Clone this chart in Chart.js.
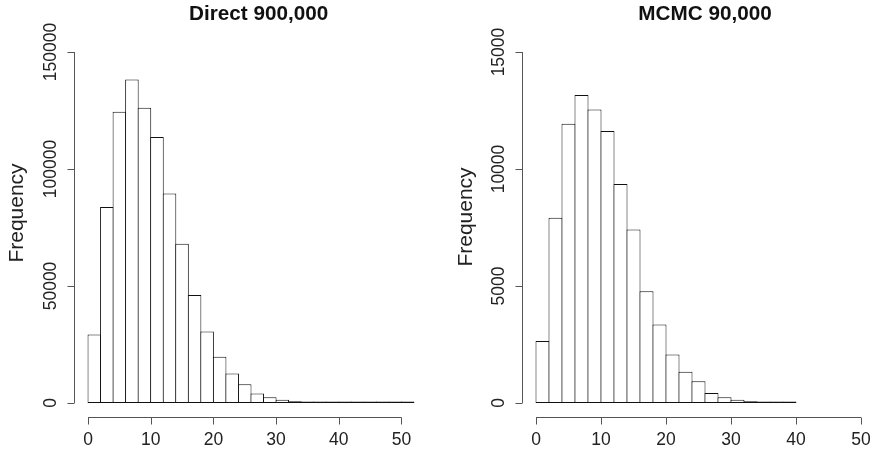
<!DOCTYPE html>
<html>
<head>
<meta charset="utf-8">
<script src="https://cdn.jsdelivr.net/npm/chart.js@4.4.1/dist/chart.umd.min.js"></script>
<style>
  body { margin: 0; background: #fff; }
  .panel { position: absolute; top: 0; width: 437px; height: 452px; }
</style>
</head>
<body>
<div class="panel" style="left:0"><canvas id="direct" width="437" height="452"></canvas></div>
<div class="panel" style="left:437px"><canvas id="mcmc" width="437" height="452"></canvas></div>
<script>
/*=============== DATA ===============*/
// bin edges (width 2)
const directBreaks = [0, 2, 4, 6, 8, 10, 12, 14, 16, 18, 20, 22, 24, 26, 28, 30, 32, 34, 36, 38, 40, 42, 44, 46, 48, 50, 52]
const directCounts = [29300, 83800, 124500, 138300, 126200, 113700, 89500, 68100, 46200, 30500, 19700, 12600, 8000, 4000, 2400, 1400, 700, 350, 180, 100, 50, 25, 12, 6, 3, 2]

const mcmcBreaks = [0, 2, 4, 6, 8, 10, 12, 14, 16, 18, 20, 22, 24, 26, 28, 30, 32, 34, 36, 38, 40]
const mcmcCounts = [2650, 7920, 11940, 13160, 12540, 11620, 9360, 7410, 4770, 3350, 2070, 1330, 930, 430, 240, 140, 70, 30, 15, 8]

const xTicks = [0, 10, 20, 30, 40, 50]
const directYTicks = [0, 50000, 100000, 150000]
const mcmcYTicks = [0, 5000, 10000, 15000]

const FONT = "'Liberation Sans', Arial, Helvetica, sans-serif"

/*=============== R STYLE AXES ===============*/
const rAxes = {
    id: 'rAxes',
    afterDraw(chart, args, o) {
        const { ctx, scales: { x, y } } = chart
        const area = chart.chartArea
        ctx.save()
        ctx.strokeStyle = '#555'
        ctx.lineWidth = 1

        // x axis
        const ax = Math.round(area.bottom) + 0.5
        const x0 = x.getPixelForValue(o.xTicks[0]), x1 = x.getPixelForValue(o.xTicks[o.xTicks.length - 1])
        ctx.beginPath()
        ctx.moveTo(x0, ax); ctx.lineTo(x1, ax)
        o.xTicks.forEach(t => {
            const px = Math.round(x.getPixelForValue(t)) + 0.5
            ctx.moveTo(px, ax); ctx.lineTo(px, ax + 7)
        })
        // y axis
        const ay = Math.round(area.left) - 0.5
        const y0 = y.getPixelForValue(o.yTicks[0]), y1 = y.getPixelForValue(o.yTicks[o.yTicks.length - 1])
        ctx.moveTo(ay, y0); ctx.lineTo(ay, y1)
        o.yTicks.forEach(t => {
            const py = Math.round(y.getPixelForValue(t)) + 0.5
            ctx.moveTo(ay, py); ctx.lineTo(ay - 7, py)
        })
        ctx.stroke()

        ctx.fillStyle = '#222'
        ctx.font = `17.5px ${FONT}`
        ctx.textAlign = 'center'
        ctx.textBaseline = 'middle'
        o.xTicks.forEach(t => ctx.fillText(String(t), x.getPixelForValue(t), ax + 23))

        o.yTicks.forEach(t => {
            ctx.save()
            ctx.translate(ay - 23, y.getPixelForValue(t))
            ctx.rotate(-Math.PI / 2)
            ctx.fillText(String(t), 0, 0)
            ctx.restore()
        })

        // y label
        ctx.save()
        ctx.font = `21px ${FONT}`
        ctx.translate(o.ylabX, o.ylabY)
        ctx.rotate(-Math.PI / 2)
        ctx.fillText('Frequency', 0, 0)
        ctx.restore()

        // title
        ctx.font = `bold 20.7px ${FONT}`
        ctx.fillStyle = '#111'
        ctx.fillText(o.title, o.titleX, 14)
        ctx.restore()
    }
}

function makeHist(id, breaks, counts, opts) {
    const points = counts.map((c, i) => ({ x: (breaks[i] + breaks[i + 1]) / 2, y: c }))
    return new Chart(document.getElementById(id), {
        type: 'bar',
        data: {
            datasets: [{
                data: points,
                backgroundColor: '#fff',
                borderColor: '#111',
                borderSkipped: false,
                borderWidth: 1,
                minBarLength: 1.5, // near-empty bins still show their outline, like R
                // 1px overlap so neighbouring outlines share a single line
                barPercentage: opts.barPct,
                categoryPercentage: 1
            }]
        },
        options: {
            responsive: false,
            animation: false,
            layout: { padding: opts.padding },
            scales: {
                x: { type: 'linear', display: false, offset: false, min: opts.xMin, max: opts.xMax },
                y: { display: false, min: opts.yMin, max: opts.yMax }
            },
            plugins: {
                legend: { display: false },
                tooltip: { enabled: false },
                rAxes: opts.axes
            }
        },
        plugins: [rAxes]
    })
}

makeHist('direct', directBreaks, directCounts, {
    padding: { left: 75, right: 10, top: 38, bottom: 35 },
    xMin: -2.08, xMax: 54.08, yMin: -6000, yMax: 156000, barPct: 1.08,
    axes: { title: 'Direct 900,000', titleX: 258.7, xTicks: xTicks, yTicks: directYTicks, ylabX: 17, ylabY: 213 }
})

makeHist('mcmc', mcmcBreaks, mcmcCounts, {
    padding: { left: 86, right: 0, top: 38, bottom: 35 },
    xMin: -2, xMax: 52, yMin: -600, yMax: 15600, barPct: 1.077,
    axes: { title: 'MCMC 90,000', titleX: 268, xTicks: xTicks, yTicks: mcmcYTicks, ylabX: 29, ylabY: 217 }
})
</script>
</body>
</html>
